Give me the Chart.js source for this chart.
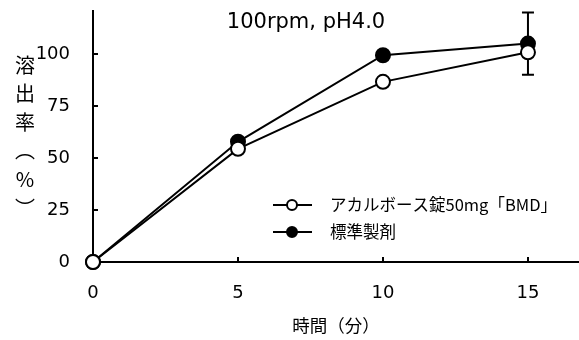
<!DOCTYPE html>
<html><head><meta charset="utf-8">
<script src="https://cdn.jsdelivr.net/npm/chart.js@4/dist/chart.umd.min.js"></script>
<style>html,body{margin:0;padding:0;background:#fff}#wrap{width:579px;height:340px;position:relative}</style>
</head><body><div id="wrap"><canvas id="c" width="579" height="340"></canvas></div>
<script>
const timeMin = [0, 5, 10, 15];
const testValues = [0, 54.4, 86.6, 100.8];
const refValues = [0, 57.8, 99.4, 105.0];
const refErrors = [0, 0, 0, 15];
const testLabel = 'アカルボース錠50mg「BMD」';
const refLabel = '標準製剤';
const chartTitle = '100rpm, pH4.0';
const xTitle = '時間（分）';
const yTitle = ['溶', '出', '率', '︵', '%', '︶'];
const xTicks = [0, 5, 10, 15];
const yTicks = [0, 25, 50, 75, 100];

const NUM_FONT = 'DejaVu Sans';
const JP_FONT = '"Noto Sans CJK JP"';

const extras = {
  id: 'extras',
  beforeDatasetsDraw(chart) {
    const ctx = chart.ctx, x = chart.scales.x, y = chart.scales.y, a = chart.chartArea;
    ctx.save();
    ctx.strokeStyle = '#000';
    ctx.lineWidth = 2;
    // inward tick marks
    yTicks.forEach(v => {
      if (v === 0) return;
      const py = Math.round(y.getPixelForValue(v));
      ctx.beginPath(); ctx.moveTo(a.left, py); ctx.lineTo(a.left + 5, py); ctx.stroke();
    });
    xTicks.forEach(v => {
      if (v === 0) return;
      const px = Math.round(x.getPixelForValue(v));
      ctx.beginPath(); ctx.moveTo(px, a.bottom); ctx.lineTo(px, a.bottom - 5); ctx.stroke();
    });
    // error bars (reference)
    timeMin.forEach((t, i) => {
      const e = refErrors[i];
      if (!e) return;
      const px = x.getPixelForValue(t);
      const top = y.getPixelForValue(refValues[i] + e);
      const bot = y.getPixelForValue(refValues[i] - e);
      ctx.beginPath();
      ctx.moveTo(px, top); ctx.lineTo(px, bot);
      ctx.moveTo(px - 6, top); ctx.lineTo(px + 6, top);
      ctx.moveTo(px - 6, bot); ctx.lineTo(px + 6, bot);
      ctx.stroke();
    });
    ctx.restore();
  },
  afterDraw(chart) {
    const ctx = chart.ctx, a = chart.chartArea;
    ctx.save();
    ctx.fillStyle = '#000';
    // chart title
    ctx.font = '21px ' + NUM_FONT;
    ctx.textAlign = 'center';
    ctx.textBaseline = 'alphabetic';
    ctx.fillText(chartTitle, 306, 28);
    // x title
    ctx.font = '17.5px ' + JP_FONT;
    ctx.textBaseline = 'middle';
    ctx.fillText(xTitle, (a.left + a.right) / 2, 325);
    // y title (vertical)
    ctx.font = '20px ' + JP_FONT;
    const cy = (a.top + a.bottom) / 2, step = 28.6;
    yTitle.forEach((ch, i) => {
      ctx.fillText(ch, 25, cy + (i - (yTitle.length - 1) / 2) * step);
    });
    // legend
    const rows = [
      { label: testLabel, ds: chart.data.datasets[0], y: 205 },
      { label: refLabel, ds: chart.data.datasets[1], y: 232 }
    ];
    rows.forEach(r => {
      ctx.strokeStyle = '#000';
      ctx.lineWidth = 2;
      ctx.beginPath(); ctx.moveTo(273, r.y); ctx.lineTo(312, r.y); ctx.stroke();
      ctx.beginPath(); ctx.arc(292, r.y, 5, 0, Math.PI * 2);
      ctx.fillStyle = r.ds.pointBackgroundColor; ctx.fill(); ctx.stroke();
      ctx.fillStyle = '#000';
      ctx.font = '16.5px ' + JP_FONT;
      ctx.textAlign = 'left';
      ctx.textBaseline = 'middle';
      ctx.fillText(r.label, 330, r.y);
    });
    ctx.restore();
  }
};

const toPts = vals => timeMin.map((t, i) => ({ x: t, y: vals[i] }));

new Chart(document.getElementById('c'), {
  type: 'line',
  data: {
    datasets: [
      { label: testLabel, data: toPts(testValues), borderColor: '#000', borderWidth: 2,
        pointBackgroundColor: '#fff', pointBorderColor: '#000', pointBorderWidth: 2,
        pointRadius: 7, clip: false, tension: 0 },
      { label: refLabel, data: toPts(refValues), borderColor: '#000', borderWidth: 2,
        pointBackgroundColor: '#000', pointBorderColor: '#000', pointBorderWidth: 2,
        pointRadius: 7, clip: false, tension: 0 }
    ]
  },
  options: {
    responsive: false, animation: false, devicePixelRatio: 1,
    layout: { autoPadding: false, padding: { left: 0, top: 11, right: 0, bottom: 0 } },
    plugins: { legend: { display: false }, tooltip: { enabled: false }, title: { display: false } },
    scales: {
      x: {
        type: 'linear', min: 0, max: 16.76,
        afterBuildTicks: s => { s.ticks = xTicks.map(v => ({ value: v })); },
        afterFit: s => { s.height = 78; s.paddingLeft = 0; s.paddingRight = 0; },
        grid: { display: false, drawTicks: false },
        border: { display: true, color: '#000', width: 2 },
        ticks: { color: '#000', font: { family: NUM_FONT, size: 18 }, padding: 21, maxRotation: 0 }
      },
      y: {
        type: 'linear', min: 0, max: 120.67,
        afterBuildTicks: s => { s.ticks = yTicks.map(v => ({ value: v })); },
        afterFit: s => { s.width = 93; s.paddingTop = 0; s.paddingBottom = 0; },
        grid: { display: false, drawTicks: false },
        border: { display: true, color: '#000', width: 2 },
        ticks: { color: '#000', font: { family: NUM_FONT, size: 18 }, padding: 23 }
      }
    }
  },
  plugins: [extras]
});
</script></body></html>
